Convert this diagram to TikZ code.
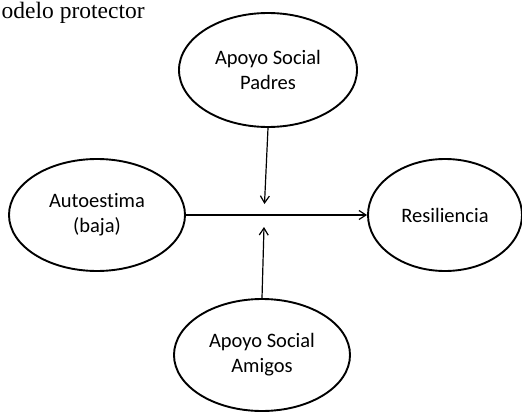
\documentclass[tikz,border=0pt]{standalone}
\usepackage{fontspec}
\setmainfont{Carlito}[Ligatures={NoCommon}]
\newfontfamily\titlefont{Liberation Serif}
\usetikzlibrary{shapes.geometric,arrows.meta}
\tikzset{
  oval/.style={ellipse, draw, line width=1.9pt, inner sep=0pt, align=center,
    font=\fontsize{20.5}{25}\selectfont},
  arr/.style={line width=1.2pt, -{Straight Barb[length=7pt,width=9pt,line width=1.2pt]}}
}
\begin{document}
\begin{tikzpicture}[x=1pt,y=-1pt]
\useasboundingbox (0,0) rectangle (522,412);
\node[anchor=base west, inner sep=0pt, font=\titlefont\fontsize{23.5}{28}\selectfont] (title) at (1.5,18.5) {odelo protector};
\node[oval, minimum width=178pt, minimum height=114pt] (top) at (268,70) {Apoyo Social\\Padres};
\node[oval, minimum width=176pt, minimum height=112pt] (left) at (97,215) {Autoestima\\(baja)};
\node[oval, minimum width=154pt, minimum height=112pt] (right) at (445,215) {Resiliencia};
\node[oval, minimum width=176pt, minimum height=112pt] (bot) at (262,355) {Apoyo Social\\Amigos};
\coordinate (m1) at (264.5,204);
\coordinate (m2) at (264,227);
\draw[arr] (left.east) -- (right.west);
\draw[arr] (top.south) -- (m1);
\draw[arr] (bot.north) -- (m2);
\end{tikzpicture}
\end{document}
